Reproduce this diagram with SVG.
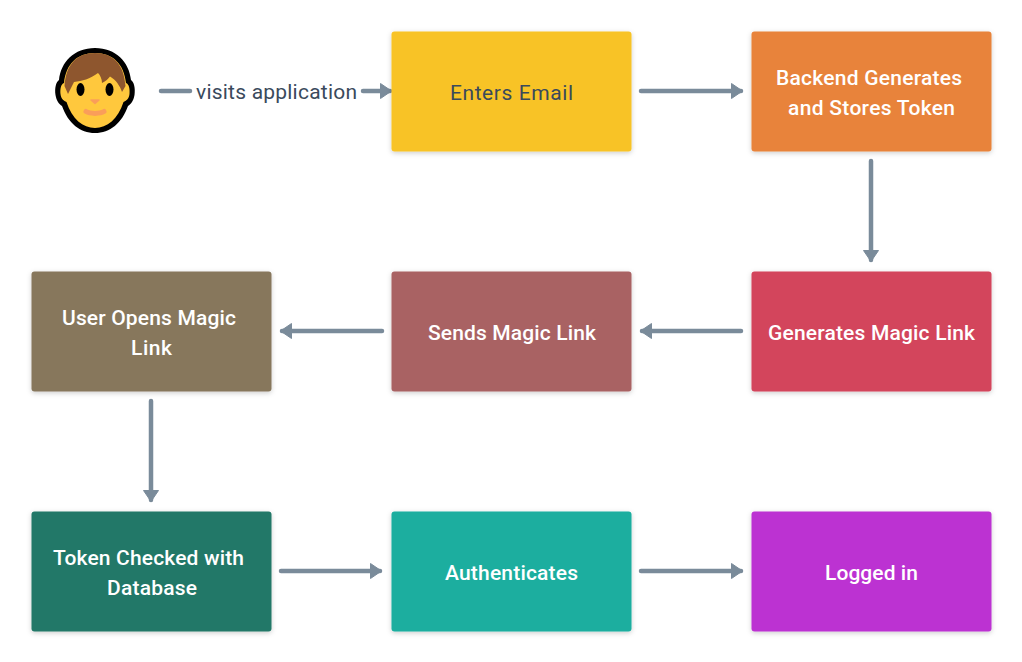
<svg xmlns="http://www.w3.org/2000/svg" width="1022" height="662" viewBox="0 0 1022 662">
  <style>
    text { font-family: "Roboto", "Liberation Sans", sans-serif; font-size: 21px; font-weight: 500; fill: #fff; }
    text.dark { fill: #3a4a5c; font-weight: 400; }
    .box { stroke: none; filter: url(#lift); }
    .link { fill: none; stroke: #7a8b9a; stroke-width: 4.500; stroke-linecap: round; marker-end: url(#head); }
    .plain { fill: none; stroke: #7a8b9a; stroke-width: 4.500; stroke-linecap: round; }
  </style>
  <defs>
    <filter id="lift" x="-10%" y="-10%" width="120%" height="125%">
      <feDropShadow dx="0" dy="1.5" stdDeviation="2.5" flood-color="#000" flood-opacity="0.2"/>
    </filter>
    <marker id="head" markerUnits="userSpaceOnUse" markerWidth="18" markerHeight="18" refX="11" refY="9" orient="auto">
      <path d="M1.500 1.500 L12.500 9 L1.500 16.500 Z" fill="#7a8b9a" stroke="#7a8b9a" stroke-width="1" stroke-linejoin="round"/>
    </marker>
  </defs>
  <rect width="1022" height="662" fill="#fff"/>

  <g id="connectors">
    <path class="plain" d="M161 91H190"/>
    <path class="link" d="M363 91H390"/>
    <path class="link" d="M641 91H741"/>
    <path class="link" d="M871 161V260"/>
    <path class="link" d="M741 331H642"/>
    <path class="link" d="M382 331H282"/>
    <path class="link" d="M151 401V500"/>
    <path class="link" d="M281 571H380"/>
    <path class="link" d="M641 571H741"/>
  </g>

  <g id="user">
    <path d="M95 48 C116 48 129 62 131 80 C134 82 135.500 88 134.500 95 C133.500 101 131 104 128 106 C122 123 110 133 95 133 C80 133 68 123 62 106 C59 104 56.500 101 55.500 95 C54.500 88 56 82 59 80 C61 62 74 48 95 48 Z" fill="#000"/>
    <path d="M95 53 C113 53 124 64 126 83 C129 84 130 89 129.500 94 C129 99 126 101 123.500 102 C118 119 107 128 95 128 C83 128 72 119 66.500 102 C64 101 61 99 60.500 94 C60 89 61 84 64 83 C66 64 77 53 95 53 Z" fill="#ffc83d"/>
    <path d="M95 53 C113 53 124 64 125.500 86 L122 92 C120 86 116 80 110 76.500 C108 79 106 81 102 83 C102 79 100 75 98 73 C90 79 82 81 74 82 C72 86 70 90 68 94 L64.500 86 C66 64 77 53 95 53 Z" fill="#8e562e"/>
    <ellipse cx="80.500" cy="89.500" rx="4" ry="6.500"/>
    <ellipse cx="109.500" cy="89.500" rx="4" ry="6.500"/>
    <path d="M91 100 H99 L95 103.500 Z" fill="#fa9e5a" stroke="#fa9e5a" stroke-width="1.500" stroke-linejoin="round"/>
    <path d="M86 111.500 C90 114 100 114 104 111.500" fill="none" stroke="#fa9e5a" stroke-width="5" stroke-linecap="round"/>
  </g>

  <text class="dark" x="196" y="98.500" textLength="161">visits application</text>

  <g id="enters-email"><rect class="box" x="391.500" y="31.500" width="240" height="120" rx="3" fill="#f8c325"/><text class="dark" x="450" y="99.500" textLength="123">Enters Email</text></g>
  <g id="backend-generates"><rect class="box" x="751.500" y="31.500" width="240" height="120" rx="3" fill="#e8833a"/><text x="776" y="84.500" textLength="186">Backend Generates</text><text x="788" y="114.500" textLength="167">and Stores Token</text></g>
  <g id="generates-link"><rect class="box" x="751.500" y="271.500" width="240" height="120" rx="3" fill="#d3455b"/><text x="768" y="339.500" textLength="207">Generates Magic Link</text></g>
  <g id="sends-link"><rect class="box" x="391.500" y="271.500" width="240" height="120" rx="3" fill="#a96264"/><text x="428" y="339.500" textLength="168">Sends Magic Link</text></g>
  <g id="user-opens"><rect class="box" x="31.500" y="271.500" width="240" height="120" rx="3" fill="#87775c"/><text x="62" y="324.500" textLength="174">User Opens Magic</text><text x="131" y="354.500" textLength="41">Link</text></g>
  <g id="token-checked"><rect class="box" x="31.500" y="511.500" width="240" height="120" rx="3" fill="#217867"/><text x="53" y="564.500" textLength="191">Token Checked with</text><text x="107" y="594.500" textLength="90">Database</text></g>
  <g id="authenticates"><rect class="box" x="391.500" y="511.500" width="240" height="120" rx="3" fill="#1aae9f"/><text x="445" y="579.500" textLength="133">Authenticates</text></g>
  <g id="logged-in"><rect class="box" x="751.500" y="511.500" width="240" height="120" rx="3" fill="#bc32d2"/><text x="825" y="579.500" textLength="93">Logged in</text></g>
</svg>
